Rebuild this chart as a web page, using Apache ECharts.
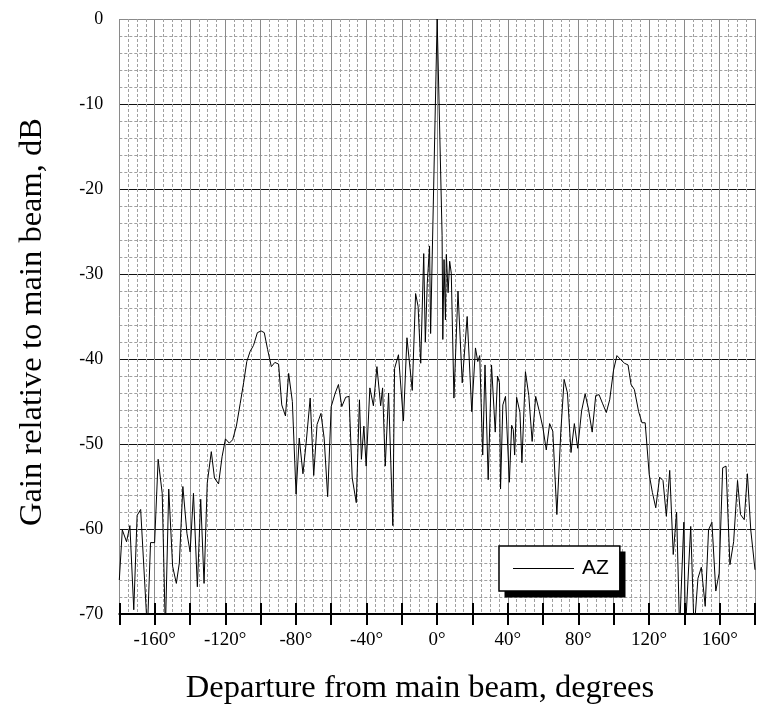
<!DOCTYPE html>
<html>
<head>
<meta charset="utf-8">
<script src="https://cdn.jsdelivr.net/npm/echarts@6/dist/echarts.min.js"></script>
<style>html,body{margin:0;padding:0;background:#fff;}#c{width:758px;height:711px;}</style>
</head>
<body>
<div id="c"></div>
<script>
// Departure angle (degrees) and gain (dB)
var angles = [
-180,-178.3,-175.9,-174.0,-171.8,-169.9,-167.9,-164.1,-162.3,-160,
-158,-155.7,-153.9,-152,-149.8,-147.7,-146,-144,-141.7,-139.9,
-138,-135.8,-133.9,-132,-130.2,-127.9,-126.1,-123.8,-121.8,-119.9,
-117.7,-115.8,-113.7,-111.5,-109.6,-107.8,-105.9,-104.0,-101.8,-99.7,
-97.9,-96.0,-93.9,-91.9,-89.8,-88.0,-85.9,-84.1,-82.0,-79.9,
-78.1,-76.0,-74.2,-71.9,-69.9,-68.0,-65.8,-64.0,-62.0,-60.0,
-57.7,-55.9,-54.0,-51.8,-49.9,-48.1,-45.8,-44.0,-42.9,-41.5,
-40.2,-38.1,-36.1,-34.1,-32.0,-30.9,-29.4,-27.5,-26.4,-25.1,
-24.1,-21.9,-19.1,-17.1,-14.1,-12.2,-10.8,-9.3,-7.6,-6.7,
-5.6,-4.3,-3.7,0,2.8,3.2,3.9,4.7,5.2,6.2,
7.1,8.0,9.5,11.8,14.2,17.0,19.6,21.7,23.0,24.1,
25.8,27.1,28.9,30.8,32.9,34.2,35.3,35.9,37.2,38.7,
40.9,42.2,43.1,43.9,45.0,46.9,48.0,50.0,51.9,53.8,
55.8,57.9,59.9,61.8,63.7,65.5,67.8,70.0,71.9,73.8,
75.8,77.7,79.6,81.8,83.8,85.7,87.8,89.8,91.7,93.6,
95.8,97.7,99.9,101.8,103.6,106.1,108.1,109.8,111.7,114.1,
116.0,117.8,120.1,121.9,123.8,126.0,127.9,129.8,131.7,133.7,
135.6,137.3,139.7,140.6,143.6,145.5,147.7,149.6,151.8,153.7,
155.6,157.8,159.7,161.7,163.6,165.8,167.9,170.1,171.8,173.9,
175.7,177.6,180
];
var gains = [
-66.0,-60.1,-61.5,-59.6,-69.5,-58.4,-57.7,-72,-61.6,-61.6,
-51.8,-55.8,-72,-55.3,-64.4,-66.4,-64.0,-55.0,-60.5,-62.7,
-55.8,-66.8,-56.5,-66.4,-54.6,-50.9,-54.0,-54.7,-51.5,-49.4,
-49.9,-49.5,-47.9,-45.2,-42.8,-40.3,-39.1,-38.4,-36.9,-36.7,
-36.9,-38.9,-40.9,-40.4,-40.6,-45.4,-46.7,-41.7,-45.0,-55.9,
-49.3,-53.5,-49.9,-44.6,-53.7,-47.7,-46.4,-49.3,-56.2,-45.6,
-44.0,-43.0,-45.6,-44.5,-44.4,-54.0,-56.9,-44.8,-51.8,-47.9,
-52.6,-43.4,-45.5,-40.9,-45.5,-43.4,-52.6,-44.0,-44.0,-59.6,
-41.1,-39.5,-47.3,-37.5,-43.7,-32.3,-33.8,-40.5,-27.6,-38.0,
-31.1,-26.7,-37.0,0,-25.5,-37.7,-28.3,-35.4,-27.7,-32.2,
-28.5,-29.9,-44.6,-32.0,-42.8,-35.0,-46.2,-38.7,-40.3,-39.6,
-51.3,-40.7,-54.2,-40.7,-48.6,-42.0,-42.8,-55.3,-45.4,-44.4,
-54.5,-47.8,-48.3,-51.3,-44.5,-46.3,-52.2,-41.5,-44.3,-49.7,
-44.4,-46.2,-48.1,-50.7,-47.6,-48.5,-58.3,-48.7,-42.4,-44.0,
-51.0,-47.6,-50.5,-46.1,-44.1,-45.9,-48.6,-44.3,-44.2,-45.2,
-46.3,-44.8,-41.3,-39.6,-40.0,-40.5,-40.7,-43.0,-43.6,-46.2,
-47.5,-47.5,-53.6,-55.7,-57.5,-53.9,-54.3,-58.5,-53.1,-63.0,
-58.0,-72,-59.2,-72,-59.7,-72,-65.8,-64.5,-69.1,-60.1,
-59.2,-67.3,-65.2,-52.8,-52.6,-64.2,-61.5,-54.3,-58.3,-58.9,
-53.5,-60.1,-64.8
];
var seriesName = 'AZ';
var xTitle = 'Departure from main beam, degrees';
var yTitle = 'Gain relative to main beam, dB';

var pts = angles.map(function (a, i) { return [a, gains[i]]; });
var serif = '"Liberation Serif", "Times New Roman", serif';
var gridTop = 19, gridBottom = 97, H = 711;

var chart = echarts.init(document.getElementById('c'), null, {renderer: 'canvas'});
chart.setOption({
  animation: false,
  backgroundColor: '#fff',
  grid: {left: 119.3, right: -3.9, top: gridTop, bottom: gridBottom, containLabel: false},
  xAxis: [{
    type: 'value', min: -180, max: 180, interval: 20, position: 'bottom',
    axisLine: {show: true, onZero: false, lineStyle: {color: '#000', width: 2}},
    axisTick: {show: true, inside: false, length: 11, lineStyle: {color: '#000', width: 2}},
    axisLabel: {
      margin: 17, color: '#000', fontFamily: serif, fontSize: 19,
      formatter: function (v) { return (v % 40 === 0 && Math.abs(v) < 180) ? v + '°' : ''; }
    },
    splitLine: {show: true, lineStyle: {color: '#8a8a8a', width: 1}},
    minorTick: {show: false, splitNumber: 4},
    minorSplitLine: {show: true, lineStyle: {color: '#a0a0a0', width: 1, type: [3, 2]}}
  }, {
    type: 'value', min: -180, max: 180, interval: 20, position: 'top',
    offset: -(H - gridTop - gridBottom),
    axisLine: {show: false},
    axisTick: {show: true, inside: false, length: 11, lineStyle: {color: '#000', width: 2}},
    axisLabel: {show: false},
    splitLine: {show: false}
  }],
  yAxis: {
    type: 'value', min: -70, max: 0, interval: 10,
    axisLine: {show: false},
    axisTick: {show: false},
    axisLabel: {margin: 16, color: '#000', fontFamily: serif, fontSize: 18},
    splitLine: {show: true, lineStyle: {color: ['#111','#111','#111','#111','#111','#111','#111','#8a8a8a'], width: 1}},
    minorTick: {show: false, splitNumber: 5},
    minorSplitLine: {show: true, lineStyle: {color: '#a0a0a0', width: 1, type: [3, 2]}}
  },
  legend: {
    show: true, left: 499, top: 546, z: 5,
    data: [{name: seriesName, icon: 'rect'}],
    orient: 'horizontal',
    itemWidth: 61, itemHeight: 1, itemGap: 8,
    padding: [12, 11, 12, 14],
    backgroundColor: '#fff',
    borderColor: '#000', borderWidth: 1.5, borderRadius: 0,
    itemStyle: {color: '#000', borderWidth: 0},
    textStyle: {color: '#000', fontFamily: '"Liberation Sans", Arial, sans-serif', fontSize: 21, padding: [0, 0, 0, 3]}
  },
  series: [{
    name: seriesName, type: 'line', data: pts,
    xAxisIndex: 0, yAxisIndex: 0,
    showSymbol: false, symbol: 'none', clip: true,
    lineStyle: {color: '#000', width: 1},
    itemStyle: {color: '#000'}
  }],
  graphic: [{
    type: 'rect', z: 4, shape: {x: 504.5, y: 551.5, width: 121, height: 46},
    style: {fill: '#000'}
  }, {
    type: 'text', x: 420, y: 688,
    style: {text: xTitle, font: '32.5px ' + serif, fill: '#000', textAlign: 'center', textVerticalAlign: 'middle'}
  }, {
    type: 'text', x: 32, y: 322, rotation: Math.PI / 2,
    style: {text: yTitle, font: '32.5px ' + serif, fill: '#000', textAlign: 'center', textVerticalAlign: 'middle'}
  }]
});
</script>
</body>
</html>
